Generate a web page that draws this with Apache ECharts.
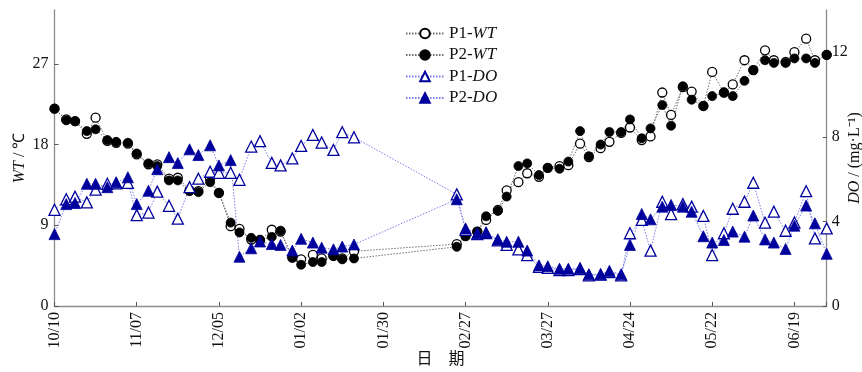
<!DOCTYPE html>
<html>
<head>
<meta charset="utf-8">
<script src="https://cdn.jsdelivr.net/npm/echarts@6/dist/echarts.min.js"></script>
<style>
  html, body { margin: 0; padding: 0; background: #fff; }
  #chart { width: 862px; height: 372px; }
</style>
</head>
<body>
<div id="chart"></div>
<script>
// Sampling days, counted from 10/10
const sampleDays = [0, 4, 7, 11, 14, 18, 21, 25, 28, 32, 35, 39, 42, 46, 49, 53, 56, 60, 63, 67,
  70, 74, 77, 81, 84, 88, 91, 95, 98, 102,
  137, 140, 144, 147, 151, 154, 158, 161, 165, 168, 172, 175, 179, 182, 186, 189, 193, 196, 200, 203,
  207, 210, 214, 217, 221, 224, 228, 231, 235, 238, 242, 245, 249, 252, 256, 259, 263];

// Date tick labels, every 28 days
const dateTicks = ['10/10', '11/07', '12/05', '01/02', '01/30', '02/27', '03/27', '04/24', '05/22', '06/19'];

// Water temperature (℃)
const p1WT = [22.0, 20.8, 20.6, 19.2, 21.0, 18.4, 18.2, 18.1, 16.9, 15.8, 15.8, 14.2, 14.3, 12.9, 12.8, 14.2, 12.6, 8.9, 8.6, 7.4,
  7.3, 8.5, 8.3, 5.4, 5.2, 5.7, 5.3, 5.6, 5.3, 6.1,
  6.9, 7.8, 8.3, 9.6, 10.7, 12.9, 13.8, 14.8, 14.4, 15.4, 15.6, 15.7, 18.1, 16.6, 17.6, 18.3, 19.3, 19.9, 18.5, 18.9,
  23.8, 21.3, 24.4, 23.9, 22.3, 26.1, 23.8, 24.7, 27.4, 26.3, 28.5, 27.4, 27.2, 28.3, 29.8, 27.4, 28.0];
const p2WT = [22.0, 20.7, 20.6, 19.5, 19.7, 18.5, 18.3, 18.2, 17.0, 15.9, 15.6, 14.0, 14.0, 12.8, 12.7, 13.8, 12.6, 9.3, 8.2, 7.6,
  7.4, 7.7, 8.4, 5.4, 4.6, 4.9, 4.9, 5.6, 5.2, 5.3,
  6.6, 7.8, 8.3, 10.0, 10.6, 12.2, 15.6, 15.9, 14.6, 15.4, 15.3, 16.1, 19.5, 16.7, 18.0, 19.4, 19.4, 20.8, 18.7, 19.8,
  22.4, 20.1, 24.5, 23.0, 22.3, 23.4, 23.8, 23.4, 25.1, 26.3, 27.4, 27.1, 27.1, 27.6, 27.6, 27.1, 28.0];

// Dissolved oxygen (mg·L⁻¹)
const p1DO = [4.55, 5.05, 5.17, 4.9, 5.5, 5.78, 5.8, 5.82, 4.3, 4.42, 5.41, 4.74, 4.13, 5.62, 6.02, 6.35, 6.3, 6.3, 5.97, 7.54,
  7.8, 6.77, 6.65, 6.98, 7.57, 8.09, 7.73, 7.38, 8.22, 7.98,
  5.28, 3.6, 3.4, 3.45, 3.1, 2.89, 2.68, 2.41, 1.85, 1.8, 1.7, 1.7, 1.75, 1.45, 1.48, 1.6, 1.45, 3.44, 4.07, 2.62,
  4.93, 4.35, 4.82, 4.7, 4.26, 2.41, 3.44, 4.6, 4.93, 5.83, 3.94, 4.46, 3.56, 3.95, 5.43, 3.2, 3.67];
const p2DO = [3.4, 4.82, 4.87, 5.78, 5.78, 5.62, 5.85, 6.09, 4.82, 5.45, 6.47, 7.04, 6.76, 7.41, 7.14, 7.6, 6.65, 6.9, 2.33, 2.73,
  3.05, 2.93, 2.89, 2.62, 3.18, 3.0, 2.76, 2.68, 2.81, 2.91,
  5.05, 3.67, 3.44, 3.47, 3.15, 3.04, 3.04, 2.62, 1.92, 1.88, 1.76, 1.76, 1.8, 1.5, 1.5, 1.66, 1.5, 2.89, 4.35, 4.1,
  4.7, 4.78, 4.7, 4.46, 3.3, 3.0, 3.12, 3.52, 3.28, 4.28, 3.15, 3.0, 2.7, 3.8, 4.75, 3.91, 2.47];

const pairs = vals => sampleDays.map((d, i) => [d, vals[i]]);

const SERIF = '"Liberation Serif", "Times New Roman", serif';
const AXIS_GRAY = '#8c8c8c';
const NAVY = '#00009c';

const chart = echarts.init(document.getElementById('chart'), null, { renderer: 'canvas' });

function mkSeries(name, vals, yIndex, symbol, size, filled, mainColor, lineColor) {
  return {
    name: name,
    type: 'line',
    yAxisIndex: yIndex,
    data: pairs(vals),
    symbol: symbol,
    symbolSize: size,
    showAllSymbol: true,
    animation: false,
    lineStyle: { color: lineColor, width: 1, type: [1.5, 1.5] },
    itemStyle: {
      color: filled ? mainColor : '#ffffff',
      borderColor: mainColor,
      borderWidth: filled ? 0.8 : 1.3,
      opacity: 1
    },
    emphasis: { disabled: true }
  };
}

const italicRich = size => ({ i: { fontStyle: 'italic', fontFamily: SERIF, fontSize: size, color: '#111' } });

const option = {
  backgroundColor: '#ffffff',
  animation: false,
  textStyle: { fontFamily: SERIF },
  grid: { left: 54.5, right: 35.3, top: 10, bottom: 66, outerBoundsMode: 'none', containLabel: false },
  legend: {
    orient: 'vertical',
    left: 405,
    top: 25,
    padding: 0,
    itemWidth: 38,
    itemHeight: 12,
    itemGap: 4.5,
    data: ['P1-WT', 'P2-WT', 'P1-DO', 'P2-DO'],
    formatter: n => n.replace(/-(\w+)$/, '-{i|$1}'),
    textStyle: {
      fontFamily: SERIF,
      fontSize: 17,
      color: '#111',
      rich: italicRich(17)
    }
  },
  xAxis: {
    type: 'value',
    min: 0,
    max: 263,
    interval: 28,
    splitLine: { show: false },
    axisLine: { show: true, lineStyle: { color: AXIS_GRAY, width: 1.3 } },
    axisTick: { show: true, inside: true, length: 4, lineStyle: { color: '#555' } },
    axisLabel: {
      rotate: 90,
      margin: 6,
      fontFamily: SERIF,
      fontSize: 16,
      color: '#111',
      formatter: v => (v % 28 === 0 && dateTicks[v / 28] !== undefined) ? dateTicks[v / 28] : ''
    },
    name: '日\u3000期',
    nameLocation: 'middle',
    nameGap: 44,
    nameMoveOverlap: false,
    nameTextStyle: { fontFamily: '"Noto Sans CJK SC", sans-serif', fontSize: 16, color: '#111' }
  },
  yAxis: [
    {
      type: 'value',
      min: 0,
      max: 33,
      interval: 9,
      position: 'left',
      splitLine: { show: false },
      axisLine: { show: true, lineStyle: { color: AXIS_GRAY, width: 1.3 } },
      axisTick: { show: true, inside: true, length: 4, lineStyle: { color: '#555' }, customValues: [0, 9, 18, 27] },
      axisLabel: { margin: 6, fontFamily: SERIF, fontSize: 16, color: '#111', customValues: [0, 9, 18, 27] },
      name: '{i|WT} / ℃',
      nameLocation: 'middle',
      nameGap: 27,
      nameRotate: 90,
      nameMoveOverlap: false,
      nameTextStyle: { fontFamily: SERIF, fontSize: 16, color: '#111', rich: italicRich(16) }
    },
    {
      type: 'value',
      min: 0,
      max: 14,
      interval: 4,
      position: 'right',
      splitLine: { show: false },
      axisLine: { show: true, lineStyle: { color: AXIS_GRAY, width: 1.3 } },
      axisTick: { show: true, inside: true, length: 4, lineStyle: { color: '#555' }, customValues: [0, 4, 8, 12] },
      axisLabel: { margin: 5, fontFamily: SERIF, fontSize: 16, color: '#111', customValues: [0, 4, 8, 12] },
      name: '{i|DO} / (mg·L⁻¹)',
      nameLocation: 'middle',
      nameGap: 20,
      nameRotate: 90,
      nameMoveOverlap: false,
      nameTextStyle: { fontFamily: SERIF, fontSize: 16, color: '#111', rich: italicRich(16) }
    }
  ],
  series: [
    mkSeries('P1-WT', p1WT, 0, 'circle', 9, false, '#000000', '#6e6e6e'),
    mkSeries('P2-WT', p2WT, 0, 'circle', 9, true, '#000000', '#6e6e6e'),
    mkSeries('P1-DO', p1DO, 1, 'triangle', 11, false, NAVY, '#7b7be6'),
    mkSeries('P2-DO', p2DO, 1, 'triangle', 11, true, NAVY, '#7b7be6')
  ]
};

chart.setOption(option);
</script>
</body>
</html>
